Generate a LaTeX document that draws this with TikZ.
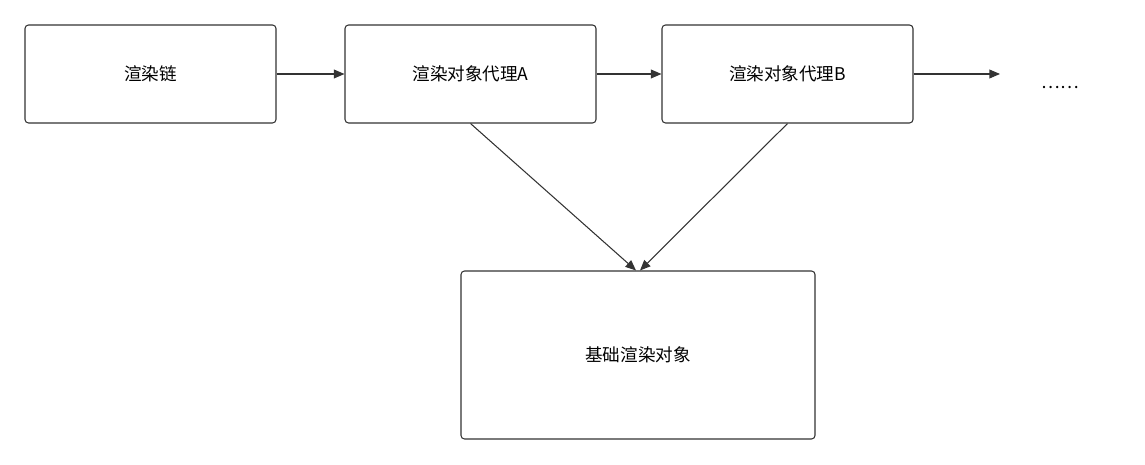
\documentclass[tikz,border=0pt]{standalone}
\usepackage{fontspec}
\setmainfont{Noto Sans CJK SC}
\usetikzlibrary{arrows.meta}
\begin{document}
\begin{tikzpicture}[align = center, font = \fontsize{10}{12}\selectfont,
    box/.style = {draw = black!80, rounded corners = 2pt, line width = 0.6pt, minimum width = 5.02cm, minimum height = 1.96cm},
    link/.style = {-{Triangle[length = 6pt, width = 5pt]}, draw = black!80, line width = 0.6pt}]
                    \useasboundingbox (0, 0) rectangle (22.9, 9.3);
                    \node[box] (chain)  at ( 3.01, 7.82) {渲染链};
                    \node[box] (proxyA) at ( 9.41, 7.82) {渲染对象代理A};
                    \node[box] (proxyB) at (15.75, 7.82) {渲染对象代理B};
                    \node[box, minimum width = 7.08cm, minimum height = 3.36cm] (base) at (12.76, 2.2) {基础渲染对象};
                    \node (dots) at (21.2, 7.55) {……};
                    \coordinate (tail) at (20.0, 7.82);
                    
                    \draw[link] (chain) -- (proxyA);
                    \draw[link] (proxyA) -- (proxyB);
                    \draw[link] (proxyB) -- (tail);
                    
                    \draw[link] (proxyA.south) -- ([xshift = -0.04cm]base.north);
                    \draw[link] (proxyB.south) -- ([xshift = 0.04cm]base.north);
                \end{tikzpicture}
\end{document}
